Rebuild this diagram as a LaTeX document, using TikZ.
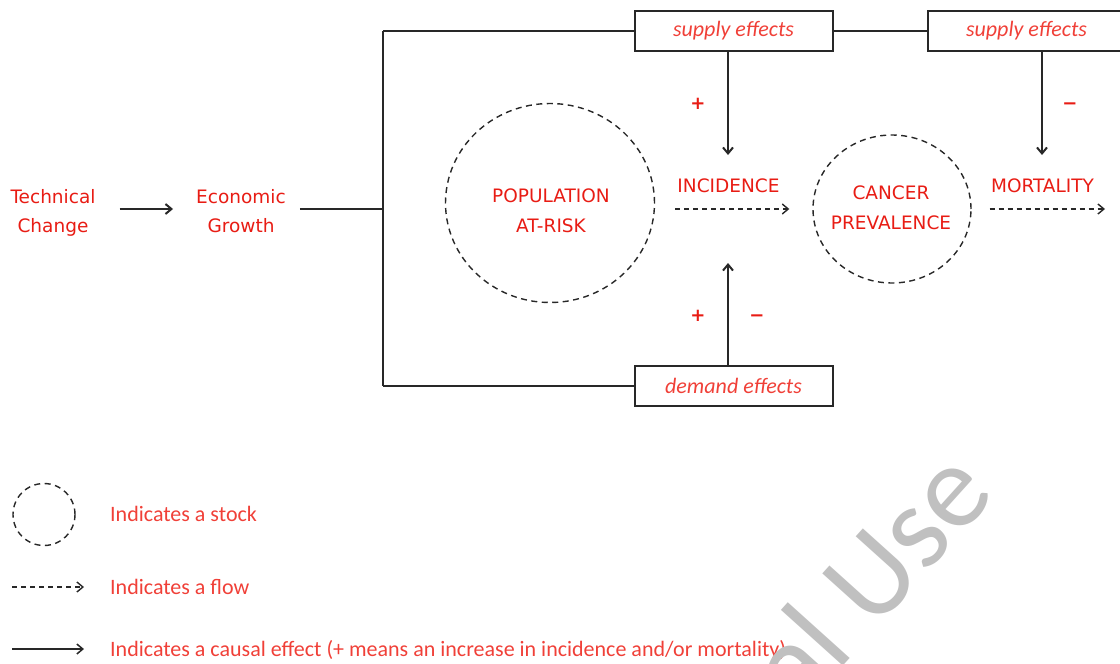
\documentclass[tikz,border=0pt]{standalone}
\usepackage{fontspec}
\setmainfont{DejaVu Sans}
\newfontfamily\calib{Carlito}
\usetikzlibrary{shapes.geometric,arrows.meta,positioning}
\definecolor{lblred}{RGB}{232,28,20}
\definecolor{keyred}{RGB}{240,64,56}
\definecolor{ink}{RGB}{40,40,40}
\definecolor{wmark}{RGB}{192,192,192}

\begin{document}
\begin{tikzpicture}[x=1pt,y=-1pt,
  >={Straight Barb[length=6pt,width=10pt]},
  lbl/.style={text=lblred,align=center,inner sep=0pt,font=\fontsize{18.5}{29.5}\selectfont},
  effbox/.style={draw=ink,line width=2pt,minimum width=198pt,minimum height=40pt,inner sep=0pt,text=keyred,font=\calib\itshape\fontsize{22}{25}\selectfont},
  stock/.style={ellipse,draw=ink,line width=1.4pt,dash pattern=on 6pt off 4.5pt,inner sep=0pt},
  link/.style={draw=ink,line width=2pt},
  causal/.style={link,->},
  flow/.style={draw=ink,line width=1.4pt,dash pattern=on 5pt off 4pt,->},
  sign/.style={text=lblred,inner sep=0pt,font=\bfseries\fontsize{18}{20}\selectfont},
  keytxt/.style={anchor=base west,inner sep=0pt,text=keyred,font=\calib\fontsize{22}{26}\selectfont}]
\useasboundingbox (0,0) rectangle (1120,664);
% Drivers
\coordinate (hub) at (383,209);
\node[lbl] (tech) at (53,213) {Technical\\Change};
\node[lbl] (econ) at (241,211) {Economic\\Growth};
\draw[causal,shorten <=24pt,shorten >=23pt] (tech.east |- hub) -- (econ.west |- hub);
\draw[link,shorten <=14pt] (econ.east |- hub) -- (hub);
% Spine and effect boxes
\coordinate (top) at (383,30.5);
\coordinate (bot) at (383,386);
\draw[link] (top) -- (bot);
\node[effbox] (sup1) at (733.5,30.5) {supply effects};
\node[effbox] (sup2) at (1026.5,30.5) {supply effects};
\node[effbox] (dem) at (733.5,386) {demand effects};
\draw[link] (top) -- (sup1.west);
\draw[link] (sup1.east) -- (sup2.west);
\draw[link] (bot) -- (dem.west);
% Stocks
\node[stock,minimum width=209pt,minimum height=199pt] (pop) at (550,203) {};
\node[lbl] (poptxt) at (551,211) {POPULATION\\AT-RISK};
\node[stock,minimum width=158pt,minimum height=148pt] (prev) at (892,209) {};
\node[lbl] (prevtxt) at (891,208) {CANCER\\PREVALENCE};
% Flows
\coordinate (out) at (1105,209);
\draw[flow,shorten <=20pt,shorten >=23pt] (pop.east |- prev.west) -- (prev.west);
\draw[flow,shorten <=18pt] (prev.east) -- (out);
\node[lbl] (inc) at (728.5,185.5) {INCIDENCE};
\node[lbl] (mort) at (1042.5,185.5) {MORTALITY};
% Causal effects
\coordinate (incup) at (728,155);
\coordinate (incdn) at (728,263);
\coordinate (mortup) at (1042,155);
\draw[causal] (sup1.south -| incup) -- (incup);
\draw[causal] (sup2.south -| mortup) -- (mortup);
\draw[causal] (dem.north -| incdn) -- (incdn);
\node[sign] (pls1) at (698,104) {+};
\node[sign] (mns1) at (1070,104) {\vphantom{+}−};
\node[sign] (pls2) at (698,316) {+};
\node[sign] (mns2) at (757,316) {\vphantom{+}−};
% Legend
\node[stock,minimum size=62pt] (kstock) at (44,514.5) {};
\node[keytxt] (tstock) at (110,521) {Indicates a stock};
\coordinate (kflow) at (12,587);
\node[keytxt] (tflow) at (110,594) {Indicates a flow};
\draw[flow,shorten >=26pt] (kflow) -- (kflow -| tflow.west);
\coordinate (kcause) at (12,649);
\node[keytxt] (tcause) at (110,656) {Indicates a causal effect (+ means an increase in incidence and/or mortality)};
\draw[causal,line width=1.5pt,shorten >=26pt] (kcause) -- (kcause -| tcause.west);
% Watermark
\node[anchor=base west,rotate=48,inner sep=0pt,text=wmark,font=\calib\fontsize{120}{120}\selectfont] (wm) at (799,715) {al Use};
\end{tikzpicture}
\end{document}
